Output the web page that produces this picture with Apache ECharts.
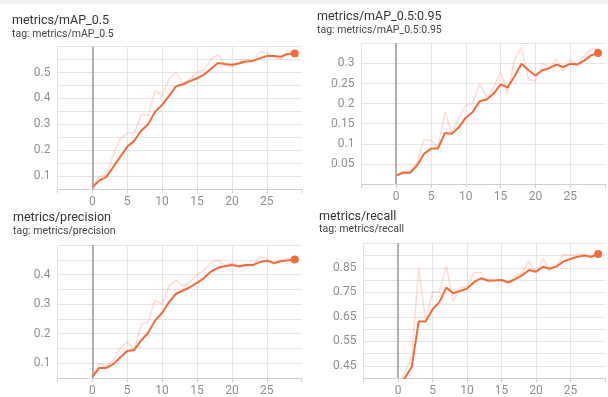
<!DOCTYPE html>
<html>
<head>
<meta charset="utf-8">
<script src="https://cdn.jsdelivr.net/npm/echarts@6/dist/echarts.min.js"></script>
<style>
html,body{margin:0;padding:0;background:#fff;}
#c{width:608px;height:397px;}
</style>
</head>
<body>
<div id="c"></div>
<script>
// ---- data ----
const epochs = [0,1,2,3,4,5,6,7,8,9,10,11,12,13,14,15,16,17,18,19,20,21,22,23,24,25,26,27,28,29];
const xTickLabels = ['0','5','10','15','20','25'];

const titles = ['metrics/mAP_0.5','metrics/mAP_0.5:0.95','metrics/precision','metrics/recall'];
const subtitles = ['tag: metrics/mAP_0.5','tag: metrics/mAP_0.5:0.95','tag: metrics/precision','tag: metrics/recall'];

const map50Raw = [0.057,0.100,0.100,0.180,0.245,0.265,0.265,0.335,0.335,0.430,0.410,0.475,0.500,0.460,0.475,0.500,0.510,0.550,0.570,0.530,0.520,0.540,0.550,0.545,0.580,0.575,0.560,0.550,0.585,0.575];
const map50Smooth = [0.057,0.083,0.096,0.135,0.174,0.213,0.236,0.275,0.300,0.349,0.375,0.410,0.447,0.455,0.467,0.478,0.492,0.514,0.537,0.533,0.530,0.535,0.543,0.545,0.555,0.564,0.564,0.561,0.572,0.574];

const map95Raw = [0.021,0.032,0.028,0.055,0.110,0.108,0.090,0.180,0.125,0.165,0.195,0.200,0.250,0.215,0.240,0.280,0.225,0.310,0.340,0.260,0.255,0.300,0.290,0.310,0.280,0.310,0.295,0.320,0.335,0.335];
const map95Smooth = [0.021,0.028,0.028,0.046,0.075,0.088,0.088,0.127,0.125,0.141,0.165,0.179,0.206,0.210,0.225,0.248,0.240,0.268,0.299,0.283,0.270,0.283,0.288,0.297,0.291,0.299,0.297,0.307,0.320,0.326];

const precRaw = [0.054,0.100,0.090,0.110,0.150,0.172,0.145,0.232,0.240,0.314,0.300,0.362,0.380,0.360,0.375,0.400,0.415,0.440,0.450,0.430,0.440,0.425,0.430,0.430,0.460,0.455,0.435,0.445,0.455,0.450];
const precSmooth = [0.054,0.084,0.084,0.097,0.119,0.141,0.145,0.177,0.203,0.245,0.270,0.307,0.335,0.346,0.357,0.372,0.388,0.410,0.423,0.428,0.432,0.428,0.432,0.432,0.442,0.447,0.439,0.445,0.448,0.451];

const recallRaw = [0.370,0.420,0.490,0.850,0.635,0.752,0.750,0.857,0.713,0.770,0.770,0.830,0.830,0.790,0.800,0.800,0.785,0.820,0.830,0.876,0.830,0.889,0.840,0.860,0.905,0.900,0.905,0.905,0.890,0.910];
const recallSmooth = [0.370,0.400,0.446,0.631,0.631,0.680,0.710,0.769,0.746,0.755,0.765,0.791,0.807,0.798,0.798,0.800,0.791,0.804,0.820,0.841,0.834,0.854,0.846,0.856,0.876,0.886,0.895,0.900,0.895,0.906];

// y-axis ranges and which ticks get labels
const yMins = [0.05, 0, 0.05, 0.4];
const yMaxs = [0.6, 0.35, 0.5, 0.95];

// ---- layout ----
const grids = [
  {left:57.4, top:46.7, width:244.3, height:142.3},
  {left:361.4, top:43.3, width:244.2, height:140.7},
  {left:57.4, top:245, width:244.3, height:140},
  {left:363.5, top:243.3, width:243.6, height:139.4}
];
const titlePos = [
  {l:12, t:14.5, st:28.5},
  {l:317, t:10.5, st:25},
  {l:13, t:211.5, st:225.5},
  {l:319, t:210, st:223.5}
];
const labelRules = [
  r => r % 10 === 0 && r < 60,
  r => r > 0 && r < 35,
  r => r % 10 === 0 && r < 50,
  r => r % 10 === 5 && r < 95
];

const rawSets = [map50Raw, map95Raw, precRaw, recallRaw];
const smoothSets = [map50Smooth, map95Smooth, precSmooth, recallSmooth];

const SMOOTH = '#f36a3a';
const RAW = 'rgba(250,120,90,0.26)';
const GRIDC = '#e4e4e4';
const FONT = 'Roboto, "Noto Sans", Arial, sans-serif';

const title = [];
titles.forEach((t,i)=>{
  title.push({text:t, left:titlePos[i].l, top:titlePos[i].t, padding:0,
    textStyle:{fontSize:12.5, fontWeight:'normal', color:'#333', fontFamily:FONT}});
  title.push({text:subtitles[i], left:titlePos[i].l, top:titlePos[i].st, padding:0,
    textStyle:{fontSize:10.5, fontWeight:'normal', color:'#444', fontFamily:FONT}});
});

const xAxis = grids.map((g,i)=>({
  type:'value', gridIndex:i, min:-5, max:30, interval:5,
  axisLine:{show:true, lineStyle:{color:'#cfcfcf', width:1}},
  axisTick:{show:true, length:4, lineStyle:{color:'#cfcfcf'}},
  axisLabel:{margin:7, fontSize:12, color:'#8f8f8f', fontFamily:FONT,
    formatter:v => { const s = String(Math.round(v)); return xTickLabels.indexOf(s) >= 0 ? s : ''; }},
  splitLine:{show:true, showMaxLine:false, lineStyle:{color:GRIDC, width:1}}
}));

const yAxis = grids.map((g,i)=>({
  type:'value', gridIndex:i, min:yMins[i], max:yMaxs[i], interval:0.05,
  axisLine:{show:true, lineStyle:{color:'#dcdcdc', width:1}},
  axisTick:{show:true, length:4, lineStyle:{color:'#dcdcdc'}},
  axisLabel:{margin:7, fontSize:12, color:'#8f8f8f', fontFamily:FONT,
    formatter:v => { const r = Math.round(v*100); return labelRules[i](r) && r > Math.round(yMins[i]*100) ? String(+v.toFixed(2)) : ''; }},
  splitLine:{show:true, lineStyle:{color:GRIDC, width:1}}
}));

const series = [];
rawSets.forEach((raw,i)=>{
  series.push({
    type:'line', xAxisIndex:i, yAxisIndex:i, silent:true,
    data: epochs.map((e,k)=>[e, raw[k]]),
    showSymbol:false, symbol:'none',
    lineStyle:{color:RAW, width:1.5}, z:2,
    markLine:{silent:true, symbol:'none', animation:false,
      label:{show:false},
      lineStyle:{color:'#9a9a9a', width:1.5, type:'solid'},
      data:[{xAxis:0}]}
  });
  const sm = smoothSets[i];
  series.push({
    type:'line', xAxisIndex:i, yAxisIndex:i, silent:true,
    data: epochs.map((e,k)=>({value:[e, sm[k]], symbol: k === epochs.length-1 ? 'circle' : 'none'})),
    showSymbol:true, symbolSize:8,
    itemStyle:{color:SMOOTH},
    lineStyle:{color:SMOOTH, width:2}, z:3
  });
});

const option = {
  animation:false,
  backgroundColor:'#ffffff',
  graphic:[{type:'rect', shape:{x:0,y:0,width:608,height:4}, style:{fill:'#f2f2f2'}, silent:true}],
  title, grid:grids, xAxis, yAxis, series
};

const chart = echarts.init(document.getElementById('c'), null, {renderer:'canvas'});
chart.setOption(option);
</script>
</body>
</html>
